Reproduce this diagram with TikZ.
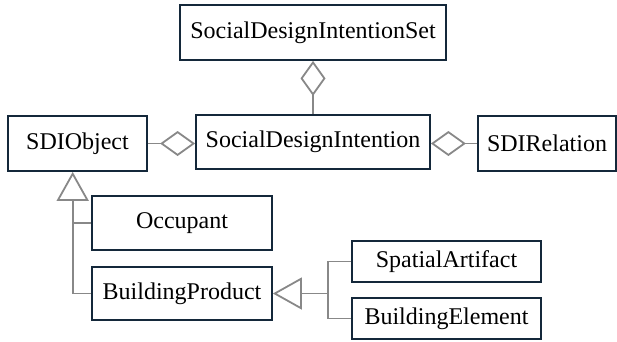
\documentclass[tikz,border=0pt]{standalone}
\usepackage{fontspec}
\setmainfont{Liberation Serif}
\usetikzlibrary{arrows.meta}
\definecolor{boxc}{HTML}{14283A}
\definecolor{linec}{HTML}{888888}
\begin{document}
\begin{tikzpicture}[x=1pt,y=-1pt,
  cls/.style={draw=boxc,line width=1.8pt,fill=white,inner sep=0pt,font=\fontsize{24}{28}\selectfont},
  conn/.style={draw=linec,line width=1.8pt},
  agg/.style={conn,-{Diamond[open,length=35pt,width=25pt,line width=1.8pt]}},
  gen/.style={conn,-{Triangle[open,length=29pt,width=32pt,line width=1.8pt]}}]
\useasboundingbox (0,0) rectangle (617,341);
\node[cls,minimum width=266pt,minimum height=55pt] (set) at (313,32.5) {SocialDesignIntentionSet};
\node[cls,minimum width=234pt,minimum height=54pt] (sdi) at (313,142) {SocialDesignIntention};
\node[cls,minimum width=139pt,minimum height=55pt] (obj) at (77.5,143.5) {SDIObject};
\node[cls,minimum width=138pt,minimum height=55pt] (rel) at (547,143.5) {SDIRelation};
\node[cls,minimum width=180pt,minimum height=54pt] (occ) at (182,223) {Occupant};
\node[cls,minimum width=180pt,minimum height=53pt] (bp) at (182,293.5) {BuildingProduct};
\node[cls,minimum width=189pt,minimum height=41pt] (sa) at (446.5,261.5) {SpatialArtifact};
\node[cls,minimum width=189pt,minimum height=41pt] (be) at (446.5,318.5) {BuildingElement};
\coordinate (jl) at (72.7,293.5);
\coordinate (jr) at (328,293.5);
\draw[agg] (sdi.north) -- (set.south);
\draw[agg] (obj.east) -- (obj.east -| sdi.west);
\draw[agg] (rel.west) -- (rel.west -| sdi.east);
\draw[conn] (occ.west) -- (occ.west -| jl);
\draw[gen] (bp.west) -- (jl) -- (jl |- obj.south);
\draw[conn] (sa.west) -- (sa.west -| jr) -- (be.west -| jr) -- (be.west);
\draw[gen] (jr) -- (bp.east);
\end{tikzpicture}
\end{document}
